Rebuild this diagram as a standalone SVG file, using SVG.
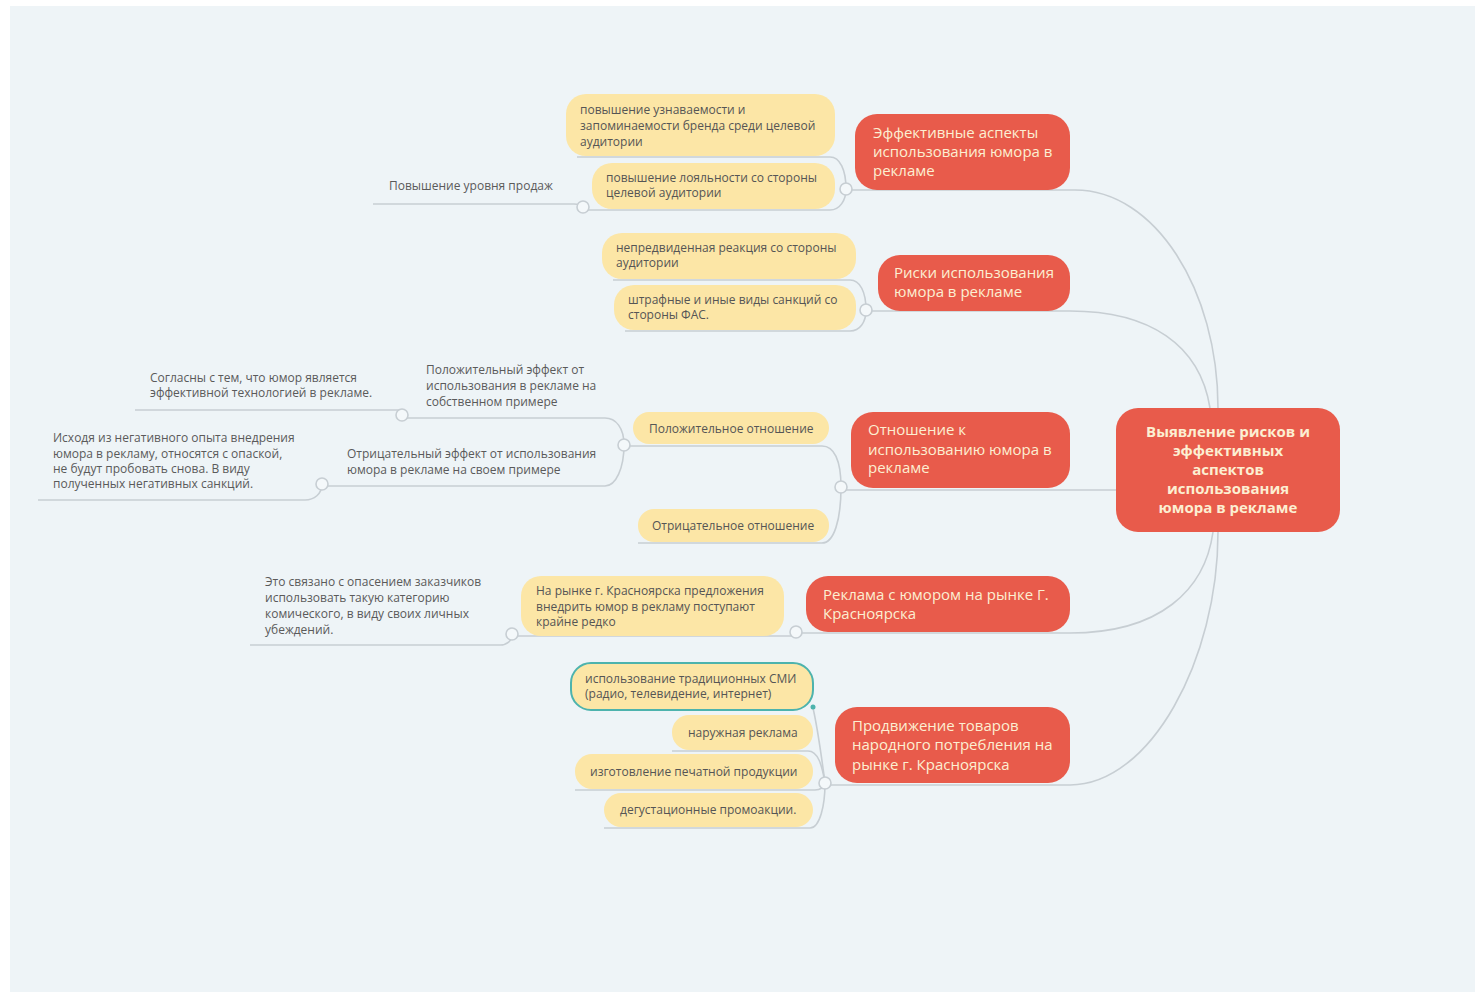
<svg xmlns="http://www.w3.org/2000/svg" width="1475" height="992" viewBox="0 0 1475 992">
<style>
.bg{fill:#eef4f7}
.red{fill:#e85b4b}
.yel{fill:#fce6a6}
.con{fill:none;stroke:#c7ced3;stroke-width:1.6}
.knob{fill:#f4f8fa;stroke:#c7ced3;stroke-width:1.6}
.rt{font-family:"Open Sans","Liberation Sans",sans-serif;font-size:15px;fill:#fcefd2}
.root{font-family:"Open Sans","Liberation Sans",sans-serif;font-size:15px;font-weight:bold;fill:#fcefd2;text-anchor:middle}
.yt{font-family:"Open Sans","Liberation Sans",sans-serif;font-size:12px;fill:#555}
.pt{font-family:"Open Sans","Liberation Sans",sans-serif;font-size:12px;fill:#5a5a5a}
</style>
<rect x="0" y="0" width="1475" height="992" fill="#ffffff"/>
<rect class="bg" x="10" y="6" width="1465" height="986"/>
<g id="connectors">
<path class="con" d="M846,190 H1075 C1155,190 1218,290 1218,408"/>
<path class="con" d="M577,157 H830 C840,157 846,170 846,189"/>
<path class="con" d="M583,210 H830 C840,210 846,200 846,189"/>
<path class="con" d="M373,204 H574 Q580,204 583,207"/>
<path class="con" d="M866,311 H1070 C1150,311 1200,345 1210,408"/>
<path class="con" d="M613,280 H850 C860,280 866,292 866,310"/>
<path class="con" d="M625,331 H850 C860,331 866,322 866,310"/>
<path class="con" d="M841,490 H1116"/>
<path class="con" d="M624,446 H822 C834,446 841,460 841,487"/>
<path class="con" d="M638,543 H822 C834,543 841,520 841,487"/>
<path class="con" d="M402,418 H605 C616,418 624,428 624,445"/>
<path class="con" d="M135,410 H402"/>
<path class="con" d="M322,486 H605 C616,486 624,468 624,445"/>
<path class="con" d="M38,500 H305 C314,500 322,494 322,484"/>
<path class="con" d="M796,633 H1070 C1160,633 1205,590 1213,532"/>
<path class="con" d="M512,636 H796"/>
<path class="con" d="M250,645 H500 C507,645 512,641 512,634"/>
<path class="con" d="M825,785 H1070 C1150,785 1218,660 1218,532"/>
<path class="con" d="M813,708 C818,730 822,760 825,783"/>
<path class="con" d="M672,751 H808 C818,751 822,765 825,783"/>
<path class="con" d="M575,790 H815 C820,790 825,787 825,783"/>
<path class="con" d="M604,828 H810 C820,828 825,805 825,783"/>
<circle class="knob" cx="846" cy="189" r="6"/>
<circle class="knob" cx="583" cy="207" r="6"/>
<circle class="knob" cx="866" cy="310" r="6"/>
<circle class="knob" cx="841" cy="487" r="6"/>
<circle class="knob" cx="624" cy="445" r="6"/>
<circle class="knob" cx="402" cy="415" r="6"/>
<circle class="knob" cx="322" cy="484" r="6"/>
<circle class="knob" cx="796" cy="632" r="6"/>
<circle class="knob" cx="512" cy="634" r="6"/>
<circle class="knob" cx="825" cy="783" r="6"/>
</g>
<g id="root">
<rect class="red" x="1116" y="408" width="224" height="124" rx="22"/>
<text class="root" x="1228" y="437">Выявление рисков и</text>
<text class="root" x="1228" y="456">эффективных</text>
<text class="root" x="1228" y="475">аспектов</text>
<text class="root" x="1228" y="494">использования</text>
<text class="root" x="1228" y="513">юмора в рекламе</text>
</g>
<g id="b1">
<rect class="red" x="855" y="114" width="215" height="76" rx="22"/>
<text class="rt" x="873" y="138">Эффективные аспекты</text>
<text class="rt" x="873" y="157">использования юмора в</text>
<text class="rt" x="873" y="176">рекламе</text>
</g>
<g id="b1c1">
<rect class="yel" x="566" y="94" width="269" height="62" rx="20"/>
<text class="yt" x="580" y="114">повышение узнаваемости и</text>
<text class="yt" x="580" y="130">запоминаемости бренда среди целевой</text>
<text class="yt" x="580" y="146">аудитории</text>
</g>
<g id="b1c2">
<rect class="yel" x="592" y="163" width="243" height="46" rx="20"/>
<text class="yt" x="606" y="182">повышение лояльности со стороны</text>
<text class="yt" x="606" y="197">целевой аудитории</text>
</g>
<g id="b1c2a">
<text class="pt" x="389" y="190">Повышение уровня продаж</text>
</g>
<g id="b2">
<rect class="red" x="878" y="255" width="192" height="56" rx="22"/>
<text class="rt" x="894" y="278">Риски использования</text>
<text class="rt" x="894" y="297">юмора в рекламе</text>
</g>
<g id="b2c1">
<rect class="yel" x="602" y="233" width="254" height="46" rx="20"/>
<text class="yt" x="616" y="252">непредвиденная реакция со стороны</text>
<text class="yt" x="616" y="267">аудитории</text>
</g>
<g id="b2c2">
<rect class="yel" x="614" y="285" width="242" height="45" rx="20"/>
<text class="yt" x="628" y="304">штрафные и иные виды санкций со</text>
<text class="yt" x="628" y="319">стороны ФАС.</text>
</g>
<g id="b3">
<rect class="red" x="851" y="412" width="219" height="76" rx="22"/>
<text class="rt" x="868" y="435">Отношение к</text>
<text class="rt" x="868" y="455">использованию юмора в</text>
<text class="rt" x="868" y="473">рекламе</text>
</g>
<g id="b3c1">
<rect class="yel" x="633" y="412" width="196" height="32" rx="16"/>
<text class="yt" x="649" y="433">Положительное отношение</text>
</g>
<g id="b3c2">
<rect class="yel" x="638" y="509" width="191" height="33" rx="16"/>
<text class="yt" x="652" y="530">Отрицательное отношение</text>
</g>
<g id="b3c1a">
<text class="pt" x="426" y="374">Положительный эффект от</text>
<text class="pt" x="426" y="390">использования в рекламе на</text>
<text class="pt" x="426" y="406">собственном примере</text>
</g>
<g id="b3c1a1">
<text class="pt" x="150" y="382">Согласны с тем, что юмор является</text>
<text class="pt" x="150" y="397">эффективной технологией в рекламе.</text>
</g>
<g id="b3c1b">
<text class="pt" x="347" y="458">Отрицательный эффект от использования</text>
<text class="pt" x="347" y="474">юмора в рекламе на своем примере</text>
</g>
<g id="b3c1b1">
<text class="pt" x="53" y="442">Исходя из негативного опыта внедрения</text>
<text class="pt" x="53" y="458">юмора в рекламу, относятся с опаской,</text>
<text class="pt" x="53" y="473">не будут пробовать снова. В виду</text>
<text class="pt" x="53" y="488">полученных негативных санкций.</text>
</g>
<g id="b4">
<rect class="red" x="806" y="576" width="264" height="56" rx="22"/>
<text class="rt" x="823" y="600">Реклама с юмором на рынке Г.</text>
<text class="rt" x="823" y="619">Красноярска</text>
</g>
<g id="b4c1">
<rect class="yel" x="521" y="576" width="263" height="60" rx="20"/>
<text class="yt" x="536" y="595">На рынке г. Красноярска предложения</text>
<text class="yt" x="536" y="611">внедрить юмор в рекламу поступают</text>
<text class="yt" x="536" y="626">крайне редко</text>
</g>
<g id="b4c1a">
<text class="pt" x="265" y="586">Это связано с опасением заказчиков</text>
<text class="pt" x="265" y="602">использовать такую категорию</text>
<text class="pt" x="265" y="618">комического, в виду своих личных</text>
<text class="pt" x="265" y="634">убеждений.</text>
</g>
<g id="b5">
<rect class="red" x="835" y="707" width="235" height="76" rx="22"/>
<text class="rt" x="852" y="731">Продвижение товаров</text>
<text class="rt" x="852" y="750">народного потребления на</text>
<text class="rt" x="852" y="770">рынке г. Красноярска</text>
</g>
<g id="b5c1">
<rect class="yel" x="571" y="663" width="242" height="47" rx="20" stroke="#4db3ad" stroke-width="2"/>
<circle cx="813" cy="707" r="2.5" fill="#4db3ad"/>
<text class="yt" x="585" y="683">использование традиционных СМИ</text>
<text class="yt" x="585" y="698">(радио, телевидение, интернет)</text>
</g>
<g id="b5c2">
<rect class="yel" x="672" y="715" width="141" height="35" rx="17"/>
<text class="yt" x="688" y="737">наружная реклама</text>
</g>
<g id="b5c3">
<rect class="yel" x="575" y="754" width="238" height="35" rx="17"/>
<text class="yt" x="590" y="776">изготовление печатной продукции</text>
</g>
<g id="b5c4">
<rect class="yel" x="604" y="793" width="209" height="34" rx="17"/>
<text class="yt" x="620" y="814">дегустационные промоакции.</text>
</g>
</svg>
